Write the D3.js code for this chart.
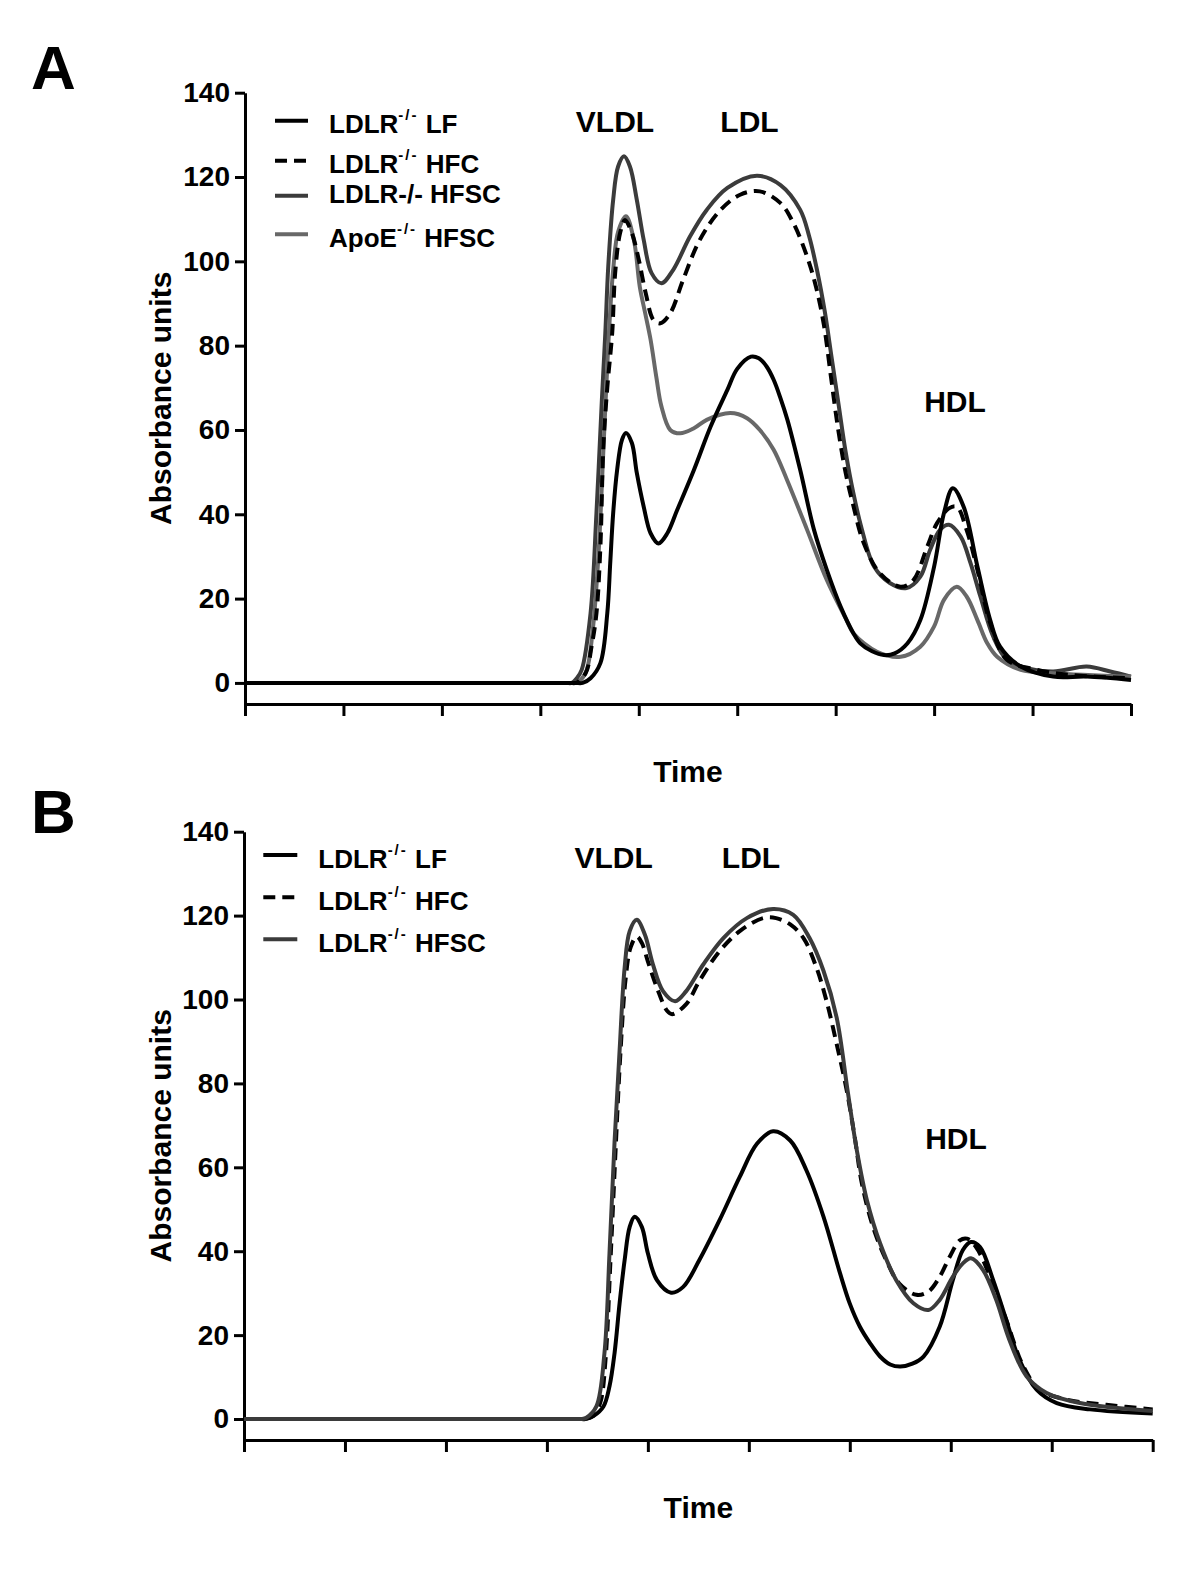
<!DOCTYPE html>
<html>
<head>
<meta charset="utf-8">
<script src="https://cdn.jsdelivr.net/npm/d3@7"></script>
<style>
  html, body { margin: 0; padding: 0; background: #fff; }
  svg text { font-family: "Liberation Sans", Arial, Helvetica, sans-serif; font-weight: bold; fill: #000; }
</style>
</head>
<body>
<svg id="chart" width="1200" height="1577"></svg>
<script>
// ---------------- DATA ----------------
const yTickValues = [0, 20, 40, 60, 80, 100, 120, 140];
const timeTicks = [0, 10, 20, 30, 40, 50, 60, 70, 80, 90];
const yLabel = "Absorbance units";
const xLabel = "Time";
const peakLabels = ["VLDL", "LDL", "HDL"];

// Panel A series: [time, absorbance]
const lfA = [[0,0],[10,0],[20,0],[30,0],[33.5,0],[34.3,0],[35.1,1.1],[36.1,4.7],[36.8,16.5],[37.1,28.4],[37.4,40.3],[37.8,50.5],[38.3,57.7],[38.7,59.3],[39.3,56.9],[39.8,49.8],[40.5,41.8],[41.2,35.5],[42.0,33.1],[42.9,35.5],[43.9,41.0],[45.6,50.5],[47.3,60.8],[49.0,69.5],[50.0,74.5],[51.4,77.4],[52.2,77.0],[53.0,75.0],[53.7,71.9],[54.4,67.5],[55.1,62.4],[56.4,50.5],[57.8,36.3],[59.1,26.8],[60.5,18.1],[61.8,11.8],[62.5,9.4],[63.7,7.5],[64.9,6.6],[66.0,7.0],[67.3,9.4],[68.6,14.9],[70.0,27.6],[71.0,40.3],[71.9,46.2],[73.0,41.8],[74.4,27.6],[75.7,14.9],[76.7,8.6],[78.8,3.9],[82.1,1.5],[85.5,1.5],[90,0.7]];
const hfcA = [[0,0],[10,0],[20,0],[30,0],[33.0,0],[33.6,0],[34.6,2.3],[35.2,8.6],[35.7,16.5],[36.1,32.3],[36.4,56],[36.8,70],[37.3,83],[37.6,97.2],[38.1,106.7],[38.6,109.8],[39.3,106.7],[40.0,100.4],[40.7,92.5],[41.5,86.1],[42.2,85.3],[43.2,87.7],[44.5,95.6],[46.2,105.1],[48.3,112.2],[50.3,115.8],[52.3,116.6],[54.4,113.8],[55.7,109.1],[57.1,101.1],[58.0,94],[58.8,85],[59.5,73],[60.2,61],[61.0,50],[61.8,42],[62.8,33.5],[64.5,26.0],[66.6,22.8],[67.9,24.4],[69.3,32.3],[70.3,37.9],[71.5,41.4],[72.3,41.8],[73.3,36.3],[74.4,26.8],[75.7,14.2],[77.4,5.5],[80.5,3.1],[83.8,1.9],[90,1.1]];
const hfscA = [[0,0],[10,0],[20,0],[30,0],[32.6,0],[33.2,0],[33.7,1.1],[34.2,3.1],[35.1,16.5],[35.7,40.3],[36.25,67.1],[36.6,83],[36.9,98.8],[37.4,114.6],[37.9,122.5],[38.5,124.9],[39.1,122.5],[39.8,114.6],[40.5,105.1],[41.3,97.2],[42.3,94.8],[43.5,98.0],[45.2,105.9],[46.9,112.2],[49.0,117.4],[52.0,120.3],[54.4,118.1],[56.4,112.2],[57.3,106],[58.1,98],[58.9,88],[59.6,77],[60.3,66],[61.0,55],[61.8,45],[62.6,37],[63.9,27.6],[65.5,23.7],[67.2,22.5],[68.6,25.2],[69.6,31.6],[70.6,36.3],[71.5,37.5],[72.7,34.7],[73.7,28.4],[74.7,20.5],[76.0,11],[77.4,5.5],[79.4,3.5],[82.1,2.7],[85.5,3.9],[87.9,2.7],[90,1.5]];
const apoeA = [[0,0],[10,0],[20,0],[30,0],[33.0,0],[33.5,0],[34.0,0.5],[34.7,3],[35.3,12],[35.9,30],[36.4,55],[36.9,80],[37.4,98],[37.9,107],[38.7,110.7],[39.5,105.1],[40.1,94],[40.65,87.7],[41.2,81.4],[41.8,72.3],[42.3,65.6],[43.2,60],[44.2,59.2],[45.6,60.4],[46.9,62.4],[49.3,64],[51.0,62.8],[52.3,60],[53.7,55.3],[55.05,48.2],[57.1,36.3],[59.1,24.4],[61.1,14.9],[61.8,11.8],[64.2,7.4],[66.6,6.2],[68.6,8.6],[70.0,13.4],[71.0,19.7],[72.3,22.8],[73.3,20.5],[74.4,14.9],[75.4,9.4],[76.4,6.2],[78.8,3.1],[82.1,2.3],[90,1.5]];

// Panel B series
const lfB = [[0,0],[10,0],[20,0],[30,0],[33.2,0],[33.8,0],[34.6,0.7],[35.6,3.0],[36.2,7.8],[36.7,15.7],[37.2,27.6],[37.7,37.9],[38.2,45.8],[38.7,48.2],[39.4,45.8],[40.0,39.5],[40.9,33.1],[42.3,30.1],[43.5,31.5],[45.1,37.9],[47.1,47.4],[49.1,57.7],[50.8,65.6],[52.4,68.6],[54.1,66.4],[55.7,59.3],[57.4,48.2],[59.0,35.0],[60.0,27.5],[61.0,22],[62.0,18.1],[63.0,14.9],[64.0,13.0],[65.0,12.5],[66.2,13.2],[67.3,14.9],[68.9,22],[70.2,33.1],[71.2,40.3],[72.0,42.2],[72.9,41],[74.2,33.1],[75.5,23.6],[76.8,14.1],[78.5,7],[80.5,3.8],[83.8,2.3],[90,1.3]];
const hfcB = [[0,0],[10,0],[20,0],[30,0],[33.2,0],[33.8,0],[34.6,0.8],[35.3,4],[35.8,14],[36.3,38],[36.8,64],[37.3,88],[37.8,105],[38.3,112.5],[38.9,115],[39.4,113.5],[40.0,109.1],[40.9,102.8],[41.9,97.3],[42.4,96.5],[43.8,98.9],[45.1,104.4],[47.1,111.5],[49.1,116.3],[51.4,119.4],[52.7,119.4],[54.1,117.9],[55.4,114.7],[56.7,107.6],[57.7,99.6],[58.7,89.4],[59.7,78.3],[60.5,67],[61.2,56.1],[62.3,45.8],[63.6,37.9],[64.9,32.3],[66.6,29.6],[67.8,30.4],[68.9,33.9],[69.9,38.7],[70.9,42.6],[71.6,43],[72.5,41],[73.9,33.9],[75.5,23.6],[77.2,12.5],[78.8,7],[81.5,4.6],[85.4,3.4],[90,2.3]];
const hfscB = [[0,0],[10,0],[20,0],[30,0],[32.8,0],[33.4,0],[33.9,0.3],[34.9,3.0],[35.7,15.7],[36.2,39.5],[36.7,66],[37.2,87.8],[37.7,107.6],[38.2,116.3],[38.9,119.0],[39.7,115.5],[40.5,108.4],[41.5,102],[42.7,99.6],[43.8,102],[45.5,108.4],[47.5,114.7],[49.8,119.4],[52.4,121.6],[54.4,120.2],[56.0,114.7],[57.4,106.8],[58.7,95.7],[59.8,78],[60.7,64],[61.7,52.1],[63.0,41.9],[64.6,33.1],[66.3,27.6],[67.8,26],[68.9,28.4],[70.2,33.9],[71.2,37.1],[72.0,38.3],[73.2,35.5],[74.5,28.4],[75.8,18.9],[77.5,10.2],[79.5,6.2],[82.8,3.8],[90,1.9]];

// Legend entries: [main, superscript, suffix]
const legendA = [["LDLR", "-/-", " LF"], ["LDLR", "-/-", " HFC"], ["LDLR-/- HFSC", "", ""], ["ApoE", "-/-", " HFSC"]];
const legendB = [["LDLR", "-/-", " LF"], ["LDLR", "-/-", " HFC"], ["LDLR", "-/-", " HFSC"]];

// ---------------- STYLES ----------------
const sBlack = { color: "#000", dash: null };
const sDash = { color: "#000", dash: "12,7" };
const sDark = { color: "#3b3b3b", dash: null };
const sGray = { color: "#686868", dash: null };

const svg = d3.select("#chart");

function drawPanel(cfg) {
  const x = d3.scaleLinear().domain([0, 90]).range([cfg.x0, cfg.x1]);
  const y = d3.scaleLinear().domain([-5, 140]).range([cfg.yb, cfg.yt]);
  const g = svg.append("g");

  g.append("text").attr("x", 31).attr("y", cfg.letterY).attr("font-size", 62).text(cfg.letter);

  const ya = g.append("g").attr("transform", `translate(${cfg.x0},0)`)
    .call(d3.axisLeft(y).tickValues(yTickValues).tickSize(10).tickSizeOuter(0).tickPadding(5));
  ya.selectAll("path,line").attr("stroke", "#000").attr("stroke-width", 3);
  ya.selectAll("text").attr("font-size", 28).attr("font-family", "Liberation Sans, Arial, sans-serif").attr("font-weight", "bold").attr("fill", "#000");

  const xa = g.append("g").attr("transform", `translate(0,${cfg.yb})`)
    .call(d3.axisBottom(x).tickValues(timeTicks).tickSize(12).tickSizeOuter(0).tickFormat(""));
  xa.selectAll("path,line").attr("stroke", "#000").attr("stroke-width", 3);

  g.append("text").attr("transform", `translate(171,${(cfg.yb + cfg.yt) / 2}) rotate(-90)`)
    .attr("text-anchor", "middle").attr("font-size", 30).text(yLabel);
  g.append("text").attr("x", (cfg.x0 + cfg.x1) / 2).attr("y", cfg.timeY)
    .attr("text-anchor", "middle").attr("font-size", 30).text(xLabel);

  cfg.peakPos.forEach((p, i) => {
    g.append("text").attr("x", p[0]).attr("y", p[1]).attr("text-anchor", "middle")
      .attr("font-size", 30).text(peakLabels[i]);
  });

  const line = d3.line().x(d => x(d[0])).y(d => y(d[1])).curve(d3.curveCatmullRom.alpha(0.5));
  cfg.series.forEach(s => {
    g.append("path").datum(s.data).attr("d", line).attr("fill", "none")
      .attr("stroke", s.style.color).attr("stroke-width", 4)
      .attr("stroke-linejoin", "round")
      .attr("stroke-dasharray", s.style.dash);
  });

  cfg.legend.forEach((lab, i) => {
    const st = cfg.legendStyles[i];
    g.append("line").attr("x1", cfg.legX0).attr("x2", cfg.legX1)
      .attr("y1", cfg.legLineY[i]).attr("y2", cfg.legLineY[i])
      .attr("stroke", st.color).attr("stroke-width", 4).attr("stroke-dasharray", st.dash);
    const t = g.append("text").attr("x", cfg.legTextX).attr("y", cfg.legBaseY[i]).attr("font-size", 26);
    t.append("tspan").text(lab[0]);
    if (lab[1]) {
      t.append("tspan").attr("font-size", 15).attr("dy", -13).attr("letter-spacing", 2).text(lab[1]);
      t.append("tspan").attr("dy", 13).text(lab[2]);
    }
  });
}

drawPanel({
  letter: "A", letterY: 89,
  x0: 245, x1: 1131, yb: 704, yt: 92.7, timeY: 782,
  peakPos: [[615, 132], [749.5, 132], [955, 412]],
  series: [
    { data: hfscA, style: sDark },
    { data: apoeA, style: sGray },
    { data: lfA, style: sBlack },
    { data: hfcA, style: sDash }
  ],
  legend: legendA, legendStyles: [sBlack, sDash, sDark, sGray],
  legX0: 275, legX1: 308, legTextX: 329,
  legLineY: [120.7, 160.7, 195.7, 234.3], legBaseY: [133.3, 172.7, 203.3, 246.7]
});

drawPanel({
  letter: "B", letterY: 832.7,
  x0: 244, x1: 1152.7, yb: 1440, yt: 831.7, timeY: 1518,
  peakPos: [[613.7, 868.3], [751, 868.3], [956, 1149.3]],
  series: [
    { data: lfB, style: sBlack },
    { data: hfcB, style: sDash },
    { data: hfscB, style: sDark }
  ],
  legend: legendB, legendStyles: [sBlack, sDash, sDark],
  legX0: 263.3, legX1: 297.3, legTextX: 318.3,
  legLineY: [855, 897.3, 939.3], legBaseY: [868.3, 910, 951.7]
});
</script>
</body>
</html>
